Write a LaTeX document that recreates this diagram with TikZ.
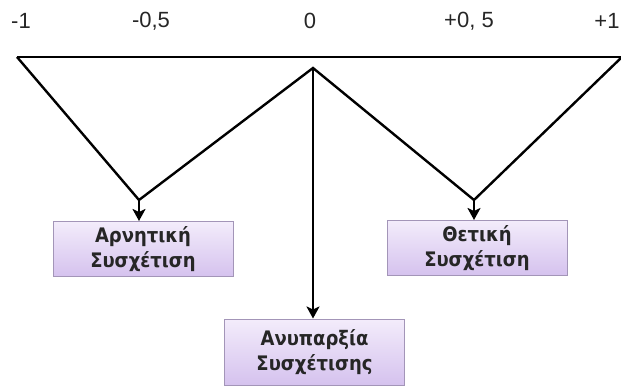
\documentclass[tikz,border=0pt]{standalone}
\usepackage{fontspec}
\setmainfont{Liberation Sans}
\newfontfamily\boxfont{DejaVu Sans Condensed}
\usetikzlibrary{arrows.meta}
\definecolor{boxtop}{HTML}{F3ECFB}
\definecolor{boxbot}{HTML}{D5C2EE}
\definecolor{boxedge}{HTML}{A395B8}
\definecolor{boxtext}{HTML}{262626}
\tikzset{
  conn/.style={line width=2.4pt, black, line join=miter},
  arr/.style={conn, -{Stealth[length=12pt,width=13pt,inset=3pt]}},
  corrbox/.style={draw=boxedge, line width=1pt, top color=boxtop, bottom color=boxbot,
    minimum width=180pt, minimum height=55pt, align=center, inner sep=0pt,
    font=\boxfont\bfseries\fontsize{20}{25}\selectfont, text=boxtext},
  scalelbl/.style={font=\fontsize{22}{24}\selectfont, text=black!85}
}
\begin{document}
\begin{tikzpicture}[x=1pt,y=-1pt]
\useasboundingbox (0,0) rectangle (621,387);
% scale labels
\node[scalelbl] (m1) at (21,21) {-1};
\node[scalelbl] (m05) at (151,21) {-0,5};
\node[scalelbl] (z) at (310,21) {0};
\node[scalelbl] (p05) at (469,21) {+0, 5};
\node[scalelbl] (p1) at (607,21) {+1};
% vertices
\coordinate (L) at (17,57);
\coordinate (R) at (622,57);
\coordinate (C) at (313,68);
\coordinate (LV) at (139,200);
\coordinate (RV) at (474,200);
% boxes
\node[corrbox] (neg) at (143,249) {Αρνητική\\Συσχέτιση};
\node[corrbox] (pos) at (477,248) {Θετική\\Συσχέτιση};
\node[corrbox, minimum height=66pt] (none) at (314.5,352) {Ανυπαρξία\\Συσχέτισης};
% connectors
\draw[conn] (L) -- (R);
\draw[conn] (L) -- (LV) -- (C) -- (RV) -- (R);
\draw[arr] (LV) -- (LV |- neg.north);
\draw[arr] (RV) -- (RV |- pos.north);
\draw[arr] (C) -- (C |- none.north);
\end{tikzpicture}
\end{document}
